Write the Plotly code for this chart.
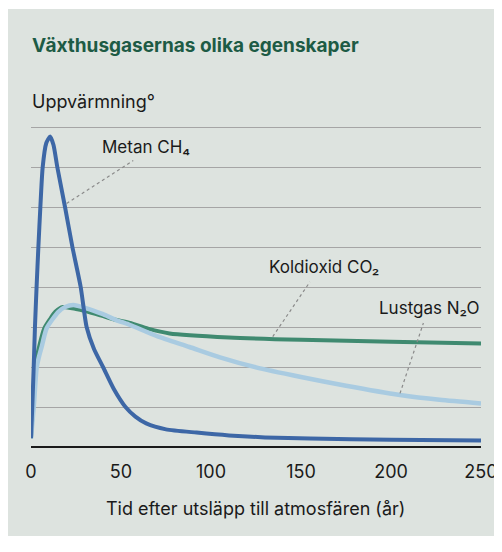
import plotly.graph_objects as go

# ---- data ----
years_ch4 = [0, 0.7, 1.5, 2.2, 3.1, 4.1, 5.2, 6.5, 8.5, 10.6, 12.5, 14.6, 18.9, 23, 27.6,
             30.9, 35, 40, 46, 52.5, 58, 64, 75, 92, 110, 130, 155, 200, 250]
ch4 = [0.22, 1.0, 2.0, 3.0, 4.0, 5.0, 6.0, 7.0, 7.6, 7.76, 7.55, 7.0, 6.0, 5.0, 4.0,
       3.0, 2.45, 2.0, 1.45, 1.0, 0.76, 0.59, 0.44, 0.36, 0.29, 0.24, 0.21, 0.18, 0.16]

years_co2 = [0, 1.1, 2.2, 5, 7.4, 10.6, 13.5, 17.8, 25, 30, 38, 47, 55, 65, 77, 110, 150, 200, 250]
co2 = [0.22, 1.0, 1.97, 2.6, 2.97, 3.2, 3.38, 3.5, 3.45, 3.4, 3.3, 3.18, 3.1, 2.96, 2.84,
       2.74, 2.68, 2.63, 2.59]

years_n2o = [0, 1.7, 3.1, 4.4, 5.9, 8.7, 15.2, 19, 23.5, 30, 40, 47, 55, 70, 88, 105, 125, 150,
             175, 205, 227, 250]
n2o = [0.22, 1.1, 1.97, 2.25, 2.5, 2.97, 3.38, 3.5, 3.55, 3.48, 3.32, 3.18, 3.05, 2.77, 2.5,
       2.24, 1.99, 1.75, 1.53, 1.3, 1.18, 1.09]

x_ticks = [0, 50, 100, 150, 200, 250]

title_text = "Växthusgasernas olika egenskaper"
y_label = "Uppvärmning°"
x_label = "Tid efter utsläpp till atmosfären (år)"
labels = {"ch4": "Metan CH₄", "co2": "Koldioxid CO₂", "n2o": "Lustgas N₂O"}

# ---- layout geometry (page body has an 8px margin; keep the page from scrolling) ----
OFF = 8
W, H = 490, 528
L, R = 23, 17
T, B = 117, 87
PW, PH = W - L - R, H - T - B
FONT = "Inter"
TXT = "#1a1a1a"

def px(xp):
    return (xp - OFF - L) / PW

def py(yp):
    return (H - B - (yp - OFF)) / PH

fig = go.Figure()
fig.add_trace(go.Scatter(x=years_co2, y=co2, mode="lines",
                         line=dict(color="#3f8a70", width=4, shape="spline", smoothing=0.6),
                         hoverinfo="skip"))
fig.add_trace(go.Scatter(x=years_n2o, y=n2o, mode="lines",
                         line=dict(color="#a9cbe1", width=4.5, shape="spline", smoothing=0.6),
                         hoverinfo="skip"))
fig.add_trace(go.Scatter(x=years_ch4, y=ch4, mode="lines",
                         line=dict(color="#3d67a6", width=4, shape="spline", smoothing=0.6),
                         hoverinfo="skip"))

# gray panel
fig.add_shape(type="rect", xref="paper", yref="paper",
              x0=px(6), x1=px(520), y0=py(570), y1=py(9),
              fillcolor="#dde3df", line=dict(width=0), layer="below")

# leader lines
dot = dict(color="#8a8a8a", width=1.2, dash="dot")
fig.add_shape(type="line", x0=19.8, y0=6.09, x1=56.8, y1=7.16, line=dot)
fig.add_shape(type="line", x0=134.3, y0=2.76, x1=155, y1=4.13, line=dot)
fig.add_shape(type="line", x0=205, y0=1.34, x1=218, y1=3.1, line=dot)

lab_font = dict(family=FONT, size=17, color=TXT)
fig.add_annotation(x=38.3, y=7.5, text=labels["ch4"], showarrow=False,
                   xanchor="left", yanchor="middle", font=lab_font)
fig.add_annotation(x=131, y=4.5, text=labels["co2"], showarrow=False,
                   xanchor="left", yanchor="middle", font=lab_font)
fig.add_annotation(x=250, y=3.48, text=labels["n2o"], showarrow=False,
                   xanchor="right", yanchor="middle", font=lab_font)

fig.add_annotation(xref="paper", yref="paper", x=px(30), y=py(45), text=f"<b>{title_text}</b>",
                   showarrow=False, xanchor="left", yanchor="middle",
                   font=dict(family=FONT, size=19, color="#1d5b45"))
fig.add_annotation(xref="paper", yref="paper", x=px(30), y=py(102), text=y_label,
                   showarrow=False, xanchor="left", yanchor="middle",
                   font=dict(family=FONT, size=18, color=TXT))
fig.add_annotation(xref="paper", yref="paper", x=px(255), y=py(508), text=x_label,
                   showarrow=False, xanchor="center", yanchor="middle",
                   font=dict(family=FONT, size=18, color=TXT))

fig.update_layout(
    width=W, height=H,
    margin=dict(l=L, r=R, t=T, b=B, pad=0, autoexpand=False),
    paper_bgcolor="white",
    plot_bgcolor="rgba(0,0,0,0)",
    showlegend=False,
    xaxis=dict(range=[0, 250], tickvals=x_ticks, showgrid=False, zeroline=False,
               showline=False, ticks="", ticklabelstandoff=10, automargin=False,
               tickfont=dict(family=FONT, size=18, color=TXT), fixedrange=True),
    yaxis=dict(range=[-0.05, 8.05], tick0=0, dtick=1, showgrid=True, gridcolor="#a5a5a5",
               gridwidth=1.3, zeroline=True, zerolinecolor="#1a1a1a", zerolinewidth=1.5,
               showticklabels=False, ticks="", showline=False, automargin=False,
               fixedrange=True),
)

fig.write_html("out.html")
